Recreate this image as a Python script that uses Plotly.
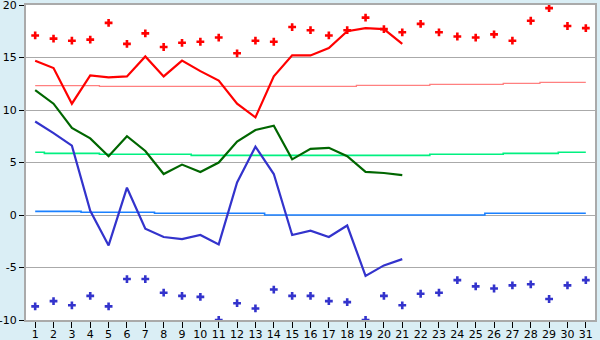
import plotly.graph_objects as go

days = list(range(1, 32))
obs_days = list(range(1, 22))

# observed daily maximum (red line)
tmax_obs = [14.7, 14.0, 10.6, 13.3, 13.1, 13.2, 15.1, 13.2, 14.7, 13.7, 12.8,
            10.6, 9.3, 13.2, 15.2, 15.2, 15.9, 17.5, 17.8, 17.7, 16.3]
# observed daily mean (dark green line)
tmean_obs = [11.9, 10.6, 8.3, 7.3, 5.6, 7.5, 6.1, 3.9, 4.8, 4.1, 5.0,
             7.0, 8.1, 8.5, 5.3, 6.3, 6.4, 5.6, 4.1, 4.0, 3.8]
# observed daily minimum (blue line)
tmin_obs = [8.9, 7.8, 6.6, 0.4, -2.9, 2.6, -1.3, -2.1, -2.3, -1.9, -2.8,
            3.1, 6.5, 3.9, -1.9, -1.5, -2.1, -1.0, -5.8, -4.8, -4.2]

# record maximum (red markers)
rec_max = [17.1, 16.8, 16.6, 16.7, 18.3, 16.3, 17.3, 16.0, 16.4, 16.5, 16.9,
           15.4, 16.6, 16.5, 17.9, 17.6, 17.1, 17.6, 18.8, 17.7, 17.4, 18.2,
           17.4, 17.0, 16.9, 17.2, 16.6, 18.5, 19.7, 18.0, 17.8]
# record minimum (blue markers)
rec_min = [-8.7, -8.2, -8.6, -7.7, -8.7, -6.1, -6.1, -7.4, -7.7, -7.8, -10.0,
           -8.4, -8.9, -7.1, -7.7, -7.7, -8.2, -8.3, -10.0, -7.7, -8.6, -7.5,
           -7.4, -6.2, -6.8, -7.0, -6.7, -6.6, -8.0, -6.7, -6.2]

# climatological normals
norm_max = [12.32] * 4 + [12.25] * 14 + [12.35] * 4 + [12.44] * 4 + [12.54] * 2 + [12.63] * 3
norm_mean = [5.97] + [5.87] * 3 + [5.78] * 5 + [5.68] * 13 + [5.78] * 4 + [5.87] * 3 + [5.97] * 2
norm_min = [0.35] * 3 + [0.26] * 4 + [0.16] * 6 + [0.0] * 12 + [0.16] * 6

yticks = [-10, -5, 0, 5, 10, 15, 20]

fig = go.Figure()

fig.add_trace(go.Scatter(x=days, y=norm_max, mode="lines", line=dict(color="#ff8080", width=1.3, shape="hvh")))
fig.add_trace(go.Scatter(x=days, y=norm_mean, mode="lines", line=dict(color="#00f080", width=1.6, shape="hvh")))
fig.add_trace(go.Scatter(x=days, y=norm_min, mode="lines", line=dict(color="#1a80ff", width=1.6, shape="hvh")))

fig.add_trace(go.Scatter(x=obs_days, y=tmax_obs, mode="lines", line=dict(color="#ff0000", width=2.2)))
fig.add_trace(go.Scatter(x=obs_days, y=tmean_obs, mode="lines", line=dict(color="#006600", width=2.2)))
fig.add_trace(go.Scatter(x=obs_days, y=tmin_obs, mode="lines", line=dict(color="#3333cc", width=2.2)))

fig.add_trace(go.Scatter(x=days, y=rec_max, mode="markers", cliponaxis=True,
                         marker=dict(symbol="cross", size=6.5, color="#ff0000", line=dict(width=0))))
fig.add_trace(go.Scatter(x=days, y=rec_min, mode="markers", cliponaxis=True,
                         marker=dict(symbol="cross", size=6.5, color="#3333cc", line=dict(width=0))))

fig.update_layout(
    width=600, height=340,
    margin=dict(l=26, r=5, t=5, b=20),
    paper_bgcolor="#daeef5",
    plot_bgcolor="#ffffff",
    showlegend=False,
    font=dict(family="DejaVu Sans", size=11, color="#000000"),
)
fig.update_xaxes(
    range=[0.5, 31.5], tickmode="array", tickvals=days, ticktext=[str(d) for d in days],
    showgrid=False, zeroline=False, showline=True, linecolor="#aaaaaa", linewidth=2, mirror=True,
    ticks="outside", ticklen=6, tickcolor="#000000", tickwidth=1, automargin=False,
    ticklabelstandoff=-3, ticklabeloverflow="allow",
)
fig.update_yaxes(
    range=[-10, 20], tickmode="array", tickvals=yticks, ticktext=[str(v) for v in yticks],
    showgrid=True, gridcolor="#aaaaaa", gridwidth=1, zeroline=False,
    showline=True, linecolor="#aaaaaa", linewidth=2, mirror=True,
    ticks="outside", ticklen=5, tickcolor="#000000", tickwidth=1, automargin=False,
    ticklabeloverflow="allow",
)

fig.write_html("out.html")
